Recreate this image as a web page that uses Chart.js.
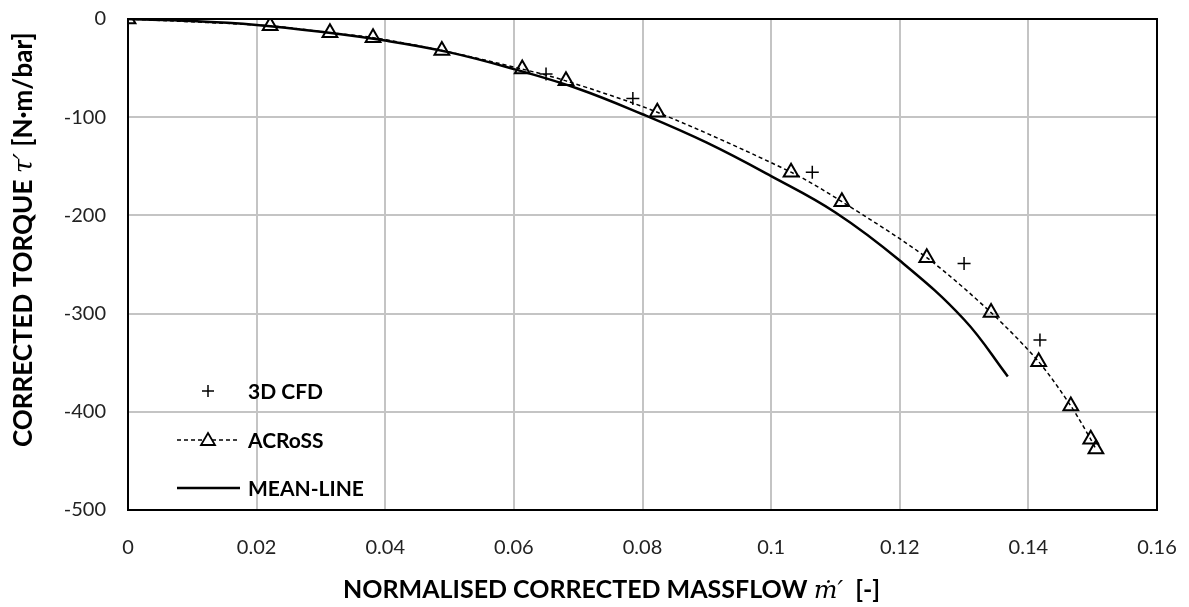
<!DOCTYPE html>
<html>
<head>
<meta charset="utf-8">
<script src="https://cdn.jsdelivr.net/npm/chart.js@4"></script>
<style>
  html, body { margin: 0; padding: 0; background: #fff; }
  #wrap { width: 1189px; height: 607px; position: relative; }
</style>
</head>
<body>
<div id="wrap"><canvas id="torqueChart"></canvas></div>
<script>
Chart.defaults.font.family = 'Lato, "Liberation Sans", sans-serif'
Chart.defaults.color = '#222'

// 3D CFD points
const cfdFlow = [0.065, 0.0785, 0.1064, 0.130, 0.1418]
const cfdTorque = [-56, -81, -156, -249, -327]

// ACRoSS points
const acrossFlow = [0, 0.0221, 0.0314, 0.0381, 0.0488, 0.0613, 0.0681, 0.0823, 0.1031, 0.111, 0.1242, 0.1342, 0.1416, 0.1466, 0.1497, 0.1505]
const acrossTorque = [0, -7, -14, -19, -32, -51, -63, -95, -156, -186, -243, -299, -349, -394, -428, -438]

// mean-line curve
const meanFlow = [0, 0.01, 0.02, 0.03, 0.04, 0.05, 0.06, 0.07, 0.08, 0.09, 0.10, 0.11, 0.12, 0.13, 0.1368]
const meanTorque = [0, -2, -6, -13, -22, -34, -51, -71, -97, -126, -160, -197, -246, -306, -364]

const xTicks = [0, 0.02, 0.04, 0.06, 0.08, 0.1, 0.12, 0.14, 0.16]
const yTicks = [0, -100, -200, -300, -400, -500]

const legendItems = ['3D CFD', 'ACRoSS', 'MEAN-LINE']
const xTitle = ['NORMALISED CORRECTED MASSFLOW ', 'ṁ′', '  [-]']
const yTitle = ['CORRECTED TORQUE ', 'τ′', ' [N·m/bar]']

const toPoints = (xs, ys) => xs.map((x, i) => ({ x, y: ys[i] }))

// draws a title made of bold / italic math / bold parts
const drawTitle = (ctx, parts, size) => {
    let x = 0
    parts.forEach((part, i) => {
        ctx.font = i === 1
            ? `italic ${size}px "DejaVu Serif", "Liberation Serif", serif`
            : `bold ${size}px Lato, "Liberation Sans", sans-serif`
        ctx.fillText(part, x, 0)
        x += ctx.measureText(part).width
    })
}

// black frame round the plot area + axis titles
const framePlugin = {
    id: 'frame',
    afterDraw(chart) {
        const { ctx, chartArea: a } = chart
        ctx.save()
        ctx.strokeStyle = '#000'
        ctx.lineWidth = 2
        ctx.strokeRect(a.left, a.top, a.right - a.left, a.bottom - a.top)

        ctx.fillStyle = '#000'
        ctx.textBaseline = 'alphabetic'
        ctx.save()
        ctx.translate(343, 598)
        drawTitle(ctx, xTitle, 25)
        ctx.restore()

        ctx.save()
        ctx.translate(32, 447)
        ctx.rotate(-Math.PI / 2)
        drawTitle(ctx, yTitle, 26)
        ctx.restore()
        ctx.restore()
    }
}

// legend sits inside the plot, bottom left
const insideLegend = {
    id: 'insideLegend',
    afterDraw(chart) {
        const { ctx } = chart
        const lx0 = 177, lx1 = 240, mx = 208, tx = 248
        const rows = [391, 440, 488]
        ctx.save()
        ctx.font = 'bold 21px Lato, "Liberation Sans", sans-serif'
        ctx.fillStyle = '#000'
        ctx.textBaseline = 'middle'
        legendItems.forEach((label, i) => ctx.fillText(label, tx, rows[i] + 1))

        ctx.strokeStyle = '#000'
        // cross
        ctx.lineWidth = 1.5
        ctx.beginPath()
        ctx.moveTo(mx - 6, rows[0]); ctx.lineTo(mx + 6, rows[0])
        ctx.moveTo(mx, rows[0] - 6); ctx.lineTo(mx, rows[0] + 6)
        ctx.stroke()
        // dashed line with triangle
        ctx.setLineDash([4, 3])
        ctx.beginPath()
        ctx.moveTo(lx0, rows[1]); ctx.lineTo(lx1, rows[1])
        ctx.stroke()
        ctx.setLineDash([])
        ctx.fillStyle = '#fff'
        ctx.lineWidth = 1.8
        ctx.beginPath()
        ctx.moveTo(mx, rows[1] - 7)
        ctx.lineTo(mx + 7, rows[1] + 5)
        ctx.lineTo(mx - 7, rows[1] + 5)
        ctx.closePath()
        ctx.fill(); ctx.stroke()
        // solid
        ctx.lineWidth = 2.5
        ctx.beginPath()
        ctx.moveTo(lx0, rows[2]); ctx.lineTo(lx1, rows[2])
        ctx.stroke()
        ctx.restore()
    }
}

const data = {
    datasets: [
        {
            label: legendItems[0],
            data: toPoints(cfdFlow, cfdTorque),
            showLine: false,
            pointStyle: 'cross',
            pointRadius: 6.5,
            pointBorderWidth: 1.5,
            borderColor: '#000',
            backgroundColor: '#000',
            order: 1
        },
        {
            label: legendItems[1],
            data: toPoints(acrossFlow, acrossTorque),
            showLine: true,
            borderColor: '#000',
            borderWidth: 1.5,
            borderDash: [4, 3],
            pointStyle: 'triangle',
            pointRadius: 8.5,
            pointBorderWidth: 2,
            pointBackgroundColor: 'rgba(255,255,255,0)',
            pointBorderColor: '#000',
            tension: 0.3,
            order: 0
        },
        {
            label: legendItems[2],
            data: toPoints(meanFlow, meanTorque),
            showLine: true,
            borderColor: '#000',
            borderWidth: 2.5,
            pointRadius: 0,
            tension: 0.4,
            order: 2
        }
    ]
}

const options = {
    responsive: true,
    maintainAspectRatio: false,
    animation: false,
    layout: { padding: { left: 8, right: 32, top: 19, bottom: 8 } },
    plugins: {
        legend: { display: false },
        tooltip: { enabled: false }
    },
    scales: {
        x: {
            type: 'linear',
            min: 0,
            max: 0.16,
            afterBuildTicks: axis => { axis.ticks = xTicks.map(value => ({ value })) },
            afterFit: axis => {
                axis.height = 89
                axis.paddingLeft = 0
                axis.paddingRight = 0
            },
            grid: { color: '#c4c4c4', lineWidth: 2, drawTicks: false },
            border: { display: false },
            ticks: {
                padding: 26,
                font: { size: 20 },
                color: '#222',
                callback: v => String(+v.toFixed(2))
            }
        },
        y: {
            type: 'linear',
            min: -500,
            max: 0,
            afterBuildTicks: axis => { axis.ticks = yTicks.map(value => ({ value })) },
            afterFit: axis => {
                axis.width = 120
                axis.paddingTop = 0
                axis.paddingBottom = 0
            },
            grid: { color: '#c4c4c4', lineWidth: 2, drawTicks: false },
            border: { display: false },
            ticks: {
                padding: 22,
                font: { size: 20 },
                color: '#222'
            }
        }
    }
}

new Chart('torqueChart', { type: 'scatter', data, options, plugins: [framePlugin, insideLegend] })
</script>
</body>
</html>
